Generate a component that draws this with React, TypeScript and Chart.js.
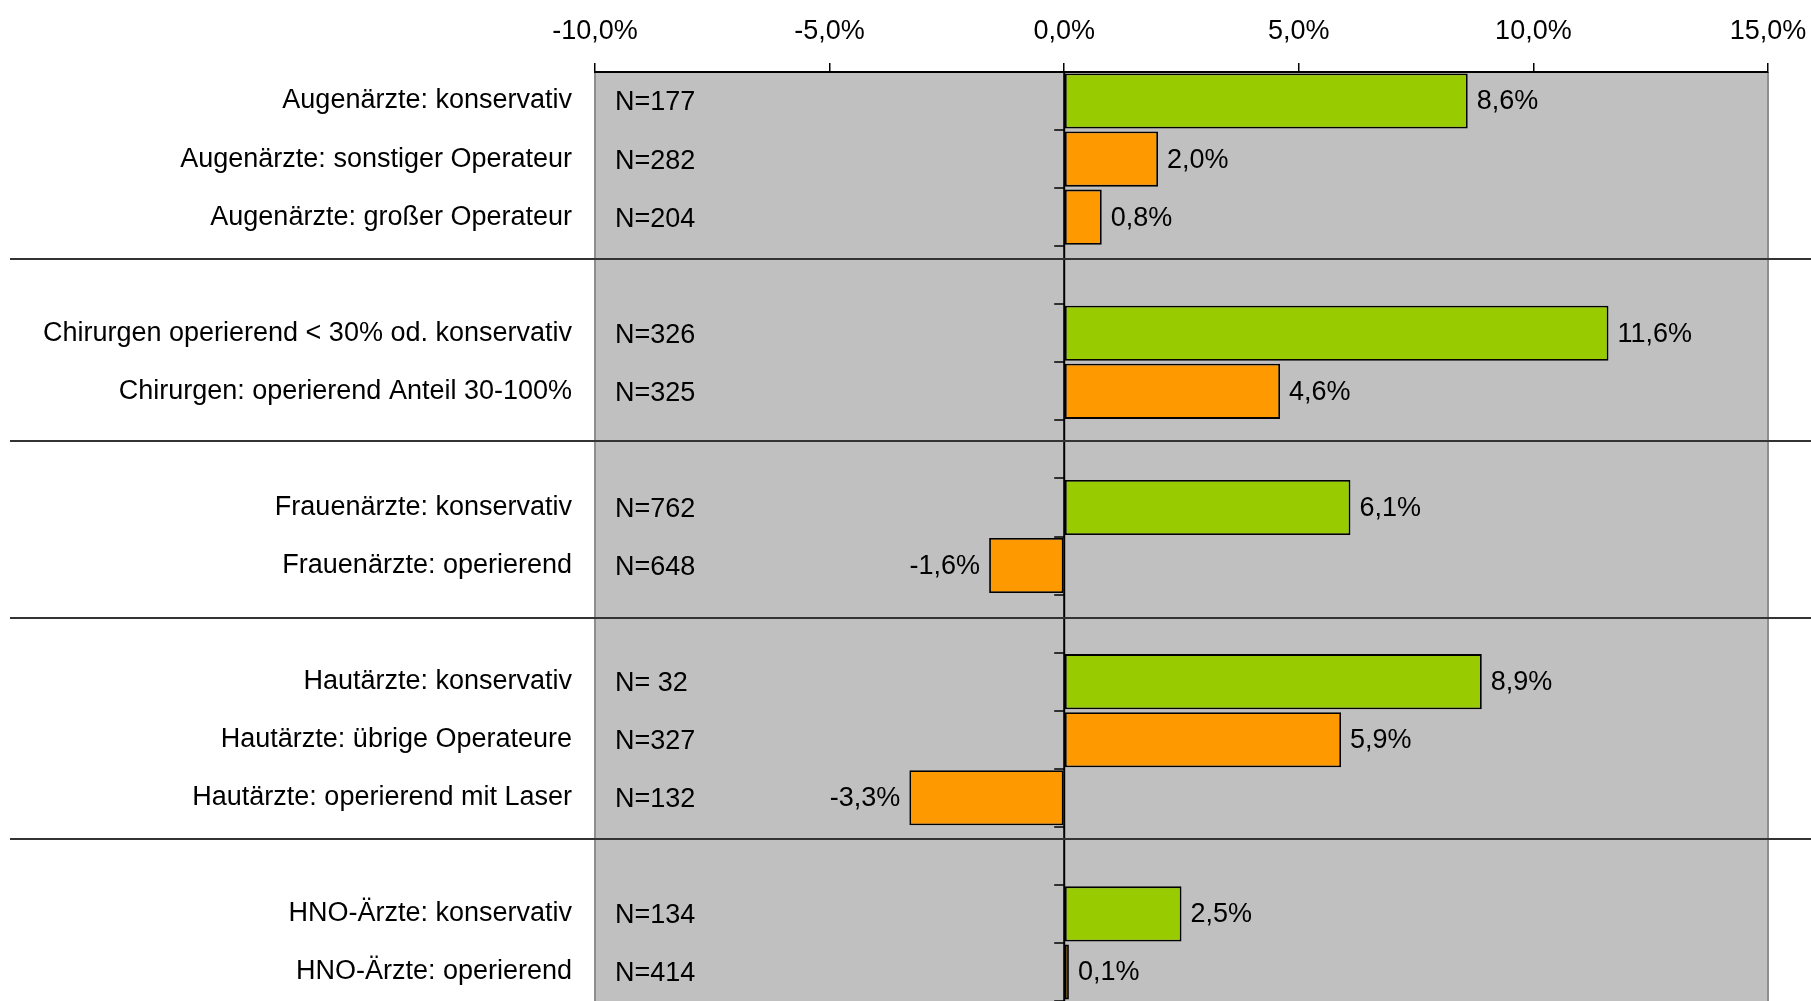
import React, { useEffect, useRef } from 'react';
import { Chart, registerables } from 'chart.js';

Chart.register(...registerables);

const categories: string[] = [
  'Augenärzte: konservativ',
  'Augenärzte: sonstiger Operateur',
  'Augenärzte: großer Operateur',
  '',
  'Chirurgen operierend < 30% od. konservativ',
  'Chirurgen: operierend Anteil 30-100%',
  '',
  'Frauenärzte: konservativ',
  'Frauenärzte: operierend',
  '',
  'Hautärzte: konservativ',
  'Hautärzte: übrige Operateure',
  'Hautärzte: operierend mit Laser',
  '',
  'HNO-Ärzte: konservativ',
  'HNO-Ärzte: operierend',
];

const changeValues: (number | null)[] = [
  8.6, 2.0, 0.8, null, 11.6, 4.6, null, 6.1, -1.6, null, 8.9, 5.9, -3.3, null, 2.5, 0.1,
];

const sampleSizes: string[] = [
  'N=177', 'N=282', 'N=204', '', 'N=326', 'N=325', '', 'N=762', 'N=648', '',
  'N= 32', 'N=327', 'N=132', '', 'N=134', 'N=414',
];

const xTickValues: number[] = [-10, -5, 0, 5, 10, 15];

// group divider positions, in category units
const groupDividers: number[] = [2.72, 5.85, 8.91, 12.71];

const FONT_FAMILY = '"Liberation Sans", Arial, Helvetica, sans-serif';
const FONT_SIZE = 27;
const GREEN = '#99CC00';
const ORANGE = '#FF9900';

const fmt = (v: number) => v.toFixed(1).replace('.', ',') + '%';

const overlayPlugin = {
  id: 'overlay',
  beforeDraw(chart: any) {
    const { ctx, chartArea } = chart;
    const { left, right, top, bottom } = chartArea;
    ctx.save();
    ctx.fillStyle = '#C0C0C0';
    ctx.fillRect(left, top, right - left, bottom - top);
    ctx.strokeStyle = '#8E8E8E';
    ctx.lineWidth = 2;
    ctx.beginPath();
    ctx.moveTo(left, top);
    ctx.lineTo(left, bottom);
    ctx.moveTo(right, top);
    ctx.lineTo(right, bottom);
    ctx.stroke();
    ctx.restore();
  },
  afterDatasetsDraw(chart: any) {
    const { ctx, chartArea, scales } = chart;
    const xs = scales.x;
    const ys = scales.y;
    const x0 = xs.getPixelForValue(0);
    ctx.save();

    // zero line
    ctx.strokeStyle = '#000';
    ctx.lineWidth = 2;
    ctx.beginPath();
    ctx.moveTo(x0, chartArea.top);
    ctx.lineTo(x0, chartArea.bottom);
    ctx.stroke();

    // category tick marks on the zero axis
    ctx.lineWidth = 1.5;
    ctx.beginPath();
    for (let i = 0; i <= categories.length; i++) {
      const y = Math.round(ys.getPixelForValue(i - 0.5));
      ctx.moveTo(x0 - 10, y);
      ctx.lineTo(x0, y);
    }
    ctx.stroke();

    // group separators
    ctx.strokeStyle = '#333';
    ctx.lineWidth = 2;
    ctx.beginPath();
    groupDividers.forEach((p) => {
      const y = Math.round(ys.getPixelForValue(p));
      ctx.moveTo(10, y);
      ctx.lineTo(chart.width, y);
    });
    ctx.stroke();

    // texts
    ctx.font = `${FONT_SIZE}px ${FONT_FAMILY}`;
    ctx.fillStyle = '#000';
    ctx.textBaseline = 'middle';
    changeValues.forEach((v, i) => {
      if (v === null) return;
      const x = xs.getPixelForValue(v);
      const y = ys.getPixelForValue(i) + 1;
      if (v >= 0) {
        ctx.textAlign = 'left';
        ctx.fillText(fmt(v), x + 9, y);
      } else {
        ctx.textAlign = 'right';
        ctx.fillText(fmt(v), x - 9, y);
      }
    });
    ctx.textAlign = 'left';
    sampleSizes.forEach((s, i) => {
      if (!s) return;
      ctx.fillText(s, chartArea.left + 20, ys.getPixelForValue(i) + 2);
    });
    ctx.restore();
  },
};

export default function App() {
  const canvasRef = useRef<HTMLCanvasElement | null>(null);

  useEffect(() => {
    if (!canvasRef.current) return;
    const font = { family: FONT_FAMILY, size: FONT_SIZE };
    const chart = new Chart(canvasRef.current, {
      type: 'bar',
      data: {
        labels: categories,
        datasets: [
          {
            data: changeValues,
            backgroundColor: categories.map((c) => (c.includes('konservativ') ? GREEN : ORANGE)),
            borderColor: '#000',
            borderWidth: 1.8,
            borderSkipped: false,
            barPercentage: 0.95,
            categoryPercentage: 1,
          },
        ],
      },
      options: {
        indexAxis: 'y',
        responsive: false,
        animation: false,
        layout: { padding: { top: 0, right: 43, bottom: 0, left: 0 } },
        plugins: {
          legend: { display: false },
          tooltip: { enabled: false },
        },
        scales: {
          x: {
            position: 'top',
            min: -10,
            max: 15,
            afterBuildTicks: (s: any) => {
              s.ticks = xTickValues.map((v) => ({ value: v }));
            },
            afterFit: (s: any) => {
              s.height = 72;
              s.paddingLeft = 0;
              s.paddingRight = 0;
              s.paddingTop = 0;
              s.paddingBottom = 0;
            },
            ticks: {
              font,
              color: '#000',
              padding: 15,
              maxRotation: 0,
              callback: (v: any) => fmt(Number(v)),
            },
            grid: {
              drawOnChartArea: false,
              drawTicks: true,
              tickLength: 9,
              color: '#000',
              lineWidth: 1.5,
            },
            border: { display: true, color: '#000', width: 2 },
          },
          y: {
            afterFit: (s: any) => {
              s.width = 595;
              s.paddingLeft = 0;
              s.paddingRight = 0;
              s.paddingTop = 0;
              s.paddingBottom = 0;
            },
            ticks: { font, color: '#000', padding: 23, autoSkip: false },
            grid: { display: false, drawTicks: false },
            border: { display: false },
          },
        },
      },
      plugins: [overlayPlugin],
    } as any);
    return () => chart.destroy();
  }, []);

  return (
    <div style={{ position: 'absolute', left: 0, top: 0, width: 1811, height: 1001, background: '#fff' }}>
      <canvas ref={canvasRef} width={1811} height={1001} style={{ display: 'block' }} />
    </div>
  );
}
